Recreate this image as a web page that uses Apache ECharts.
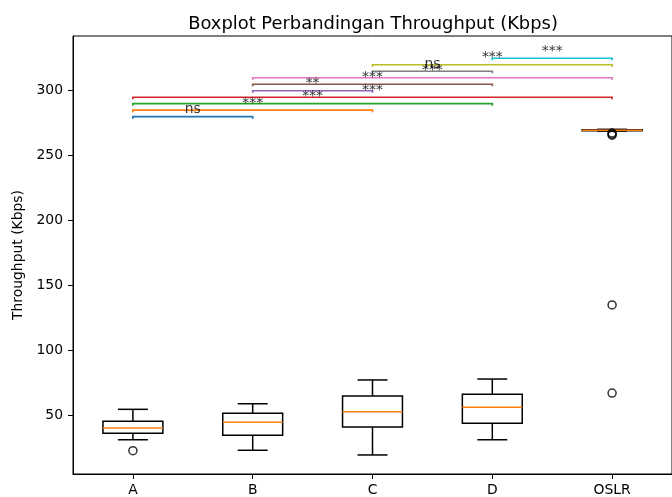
<!DOCTYPE html>
<html>
<head>
<meta charset="utf-8">
<script src="https://cdn.jsdelivr.net/npm/echarts@6/dist/echarts.min.js"></script>
<style>
html, body { margin: 0; padding: 0; background: #fff; }
#chart { width: 672px; height: 497px; }
</style>
</head>
<body>
<div id="chart"></div>
<script>
// data
var categories = ['A', 'B', 'C', 'D', 'OSLR'];
var whiskerLow = [31.5, 23.4, 19.8, 31.5, 269.0];
var q1 = [36.5, 34.9, 41.3, 44.2, 269.3];
var medians = [40.5, 44.9, 53.1, 56.5, 269.6];
var q3 = [45.7, 51.8, 65.2, 66.5, 270.0];
var whiskerHigh = [54.9, 59.2, 77.5, 78.2, 270.3];
var outliers = [[1, 23.1], [5, 265.8], [5, 266.6], [5, 267.4], [5, 135.2], [5, 67.4]];
// significance brackets (group pairs, height, label)
var pairs = [[1, 2], [1, 3], [1, 4], [1, 5], [2, 3], [2, 4], [2, 5], [3, 4], [3, 5], [4, 5]];
var bracketY = [280, 285, 290, 295, 300, 305, 310, 315, 320, 325];
var sigLabels = ['ns', '***', '***', '***', '**', '***', '***', 'ns', '***', '***'];
var yTicks = [50, 100, 150, 200, 250, 300];
var xTicks = [1, 2, 3, 4, 5];

var palette = ['#1f77b4', '#ff7f0e', '#2ca02c', '#d62728', '#9467bd',
               '#8c564b', '#e377c2', '#7f7f7f', '#bcbd22', '#17becf'];
var FONT = 'DejaVu Sans';

var boxData = categories.map(function (c, i) {
	return [i + 1, whiskerLow[i], q1[i], medians[i], q3[i], whiskerHigh[i]];
});
var bracketData = pairs.map(function (p, i) {
	return [p[0], p[1], bracketY[i], i];
});
var labelData = pairs.map(function (p, i) {
	return [(p[0] + p[1]) / 2, bracketY[i], sigLabels[i]];
});

var myChart = echarts.init(document.getElementById('chart'));
var option = {
	animation: false,
	title: {
		text: 'Boxplot Perbandingan Throughput (Kbps)',
		left: 368,
		top: 10,
		textAlign: 'center',
		textStyle: { fontFamily: FONT, fontSize: 17.9, fontWeight: 'normal', color: '#000' }
	},
	grid: {
		left: 73, top: 36, width: 602, height: 438,
		show: true, borderColor: '#000', borderWidth: 1, backgroundColor: 'transparent'
	},
	xAxis: {
		type: 'value', min: 0.5, max: 5.5,
		axisLine: { show: true, onZero: false, lineStyle: { color: '#000', width: 1 } },
		axisTick: { show: true, length: 5, customValues: xTicks, lineStyle: { color: '#000' } },
		axisLabel: {
			customValues: xTicks, margin: 9,
			fontFamily: FONT, fontSize: 13.9, color: '#000',
			formatter: function (v) { return categories[Math.round(v) - 1] || ''; }
		},
		splitLine: { show: false }
	},
	yAxis: {
		type: 'value', min: 5.15, max: 342.1,
		name: 'Throughput (Kbps)',
		nameLocation: 'middle', nameRotate: 90, nameGap: 48,
		nameTextStyle: { fontFamily: FONT, fontSize: 13.9, color: '#000' },
		axisLine: { show: true, onZero: false, lineStyle: { color: '#000', width: 1 } },
		axisTick: { show: true, length: 5, customValues: yTicks, lineStyle: { color: '#000' } },
		axisLabel: {
			customValues: yTicks, margin: 10,
			fontFamily: FONT, fontSize: 13.9, color: '#000'
		},
		splitLine: { show: false }
	},
	series: [
		{
			// boxes drawn matplotlib-style: black box and whiskers, orange median
			type: 'custom',
			data: boxData,
			encode: { x: 0, y: [1, 2, 3, 4, 5] },
			renderItem: function (params, api) {
				var x = api.value(0);
				var w = api.size([0.5, 0])[0];
				var lo = api.coord([x, api.value(1)]);
				var b1 = api.coord([x, api.value(2)]);
				var md = api.coord([x, api.value(3)]);
				var b3 = api.coord([x, api.value(4)]);
				var hi = api.coord([x, api.value(5)]);
				var cx = lo[0];
				var black = { stroke: '#000', lineWidth: 1.5, fill: null };
				return {
					type: 'group',
					children: [
						{ type: 'line', shape: { x1: cx, y1: b1[1], x2: cx, y2: lo[1] }, style: black },
						{ type: 'line', shape: { x1: cx, y1: b3[1], x2: cx, y2: hi[1] }, style: black },
						{ type: 'line', shape: { x1: cx - w / 4, y1: lo[1], x2: cx + w / 4, y2: lo[1] }, style: black },
						{ type: 'line', shape: { x1: cx - w / 4, y1: hi[1], x2: cx + w / 4, y2: hi[1] }, style: black },
						{ type: 'rect', shape: { x: cx - w / 2, y: b3[1], width: w, height: b1[1] - b3[1] }, style: black },
						{ type: 'line', shape: { x1: cx - w / 2, y1: md[1], x2: cx + w / 2, y2: md[1] },
							style: { stroke: '#ff7f0e', lineWidth: 1.5 } }
					]
				};
			}
		},
		{
			type: 'scatter',
			data: outliers,
			symbol: 'circle',
			symbolSize: 8,
			itemStyle: { color: 'rgba(0,0,0,0)', borderColor: '#000', borderWidth: 1.5 }
		},
		{
			// significance brackets
			type: 'custom',
			data: bracketData,
			encode: { x: [0, 1], y: 2 },
			renderItem: function (params, api) {
				var a = api.coord([api.value(0), api.value(2)]);
				var b = api.coord([api.value(1), api.value(2)]);
				var leg = api.coord([api.value(0), api.value(2) - 1.5])[1];
				return {
					type: 'polyline',
					shape: { points: [[a[0], leg], a, b, [b[0], leg]] },
					style: { stroke: palette[api.value(3)], lineWidth: 1.7, fill: null }
				};
			}
		},
		{
			type: 'scatter',
			data: labelData,
			symbolSize: 0,
			label: {
				show: true, position: 'top', distance: 0,
				fontFamily: FONT, fontSize: 13.9, color: '#000',
				formatter: function (p) { return p.value[2]; }
			}
		}
	]
};
myChart.setOption(option);
window.onresize = myChart.resize;
</script>
</body>
</html>
